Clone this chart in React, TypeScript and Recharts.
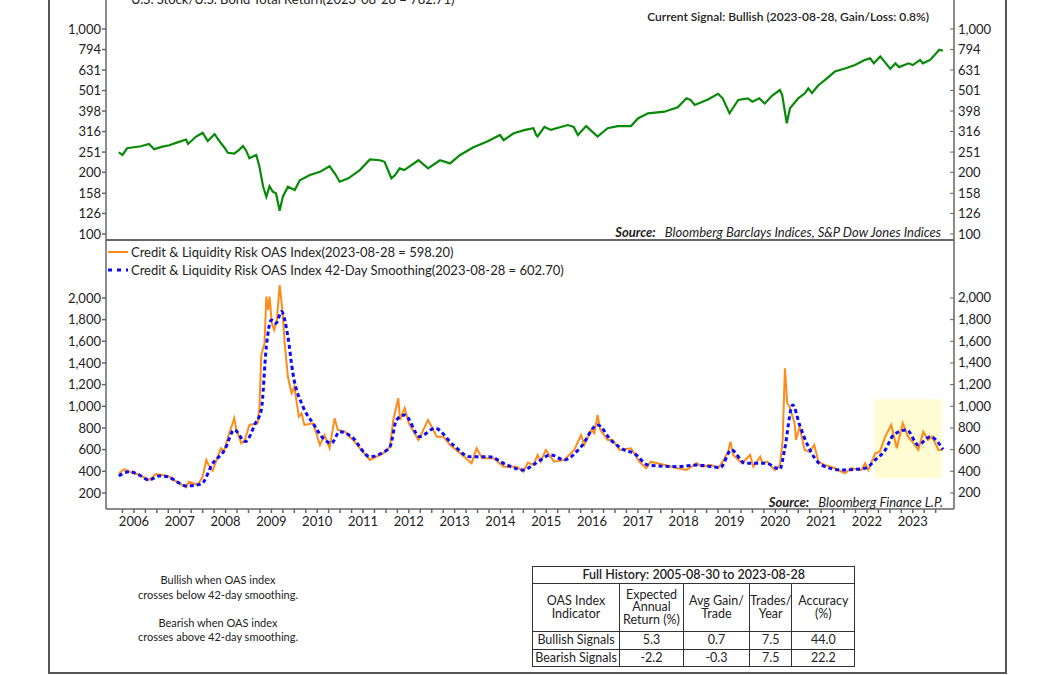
import { LineChart, Line, XAxis, YAxis, ReferenceArea } from 'recharts'

// U.S. stock / U.S. bond total return ratio [decimal year, value]
const stockBond: [number, number][] = [
  [2005.67, 250], [2005.75, 243], [2005.85, 262], [2006.0, 265], [2006.15, 268], [2006.33, 275],
  [2006.44, 259], [2006.6, 266], [2006.77, 271], [2006.95, 280], [2007.14, 289], [2007.18, 275],
  [2007.35, 298], [2007.5, 312], [2007.61, 284], [2007.76, 307], [2007.9, 277], [2007.97, 265],
  [2008.05, 249], [2008.19, 247], [2008.3, 258], [2008.38, 269], [2008.45, 255], [2008.52, 234],
  [2008.67, 243], [2008.74, 213], [2008.82, 170], [2008.89, 152], [2008.96, 171], [2009.03, 161],
  [2009.1, 158], [2009.18, 130], [2009.25, 152], [2009.36, 170], [2009.51, 164], [2009.62, 183],
  [2009.84, 194], [2010.06, 201], [2010.27, 214], [2010.4, 195], [2010.49, 180], [2010.68, 187],
  [2010.93, 205], [2011.15, 231], [2011.37, 229], [2011.47, 225], [2011.62, 187], [2011.7, 194],
  [2011.8, 209], [2011.9, 205], [2012.21, 229], [2012.42, 209], [2012.68, 229], [2012.9, 221],
  [2013.12, 243], [2013.41, 265], [2013.7, 282], [2013.99, 304], [2014.07, 287], [2014.29, 310],
  [2014.54, 322], [2014.72, 328], [2014.78, 304], [2014.81, 299], [2014.96, 333], [2015.1, 322],
  [2015.47, 340], [2015.6, 333], [2015.69, 304], [2015.87, 336], [2016.12, 299], [2016.34, 328],
  [2016.56, 336], [2016.85, 336], [2017.0, 366], [2017.22, 388], [2017.58, 395], [2017.87, 415],
  [2018.06, 459], [2018.15, 451], [2018.24, 426], [2018.53, 453], [2018.75, 483], [2018.85, 459],
  [2019.0, 388], [2019.19, 451], [2019.4, 459], [2019.5, 442], [2019.65, 459], [2019.77, 433],
  [2019.92, 471], [2020.1, 504], [2020.15, 476], [2020.25, 347], [2020.32, 411], [2020.5, 459],
  [2020.65, 487], [2020.72, 513], [2020.8, 487], [2020.94, 532], [2021.08, 563], [2021.3, 620],
  [2021.52, 642], [2021.74, 667], [2021.96, 707], [2022.07, 720], [2022.15, 680], [2022.29, 735],
  [2022.51, 639], [2022.62, 680], [2022.7, 652], [2022.91, 680], [2023.0, 667], [2023.16, 707],
  [2023.22, 680], [2023.38, 707], [2023.58, 792], [2023.66, 783],
]

// Credit & Liquidity Risk OAS Index
const oasIndex: [number, number][] = [
  [2005.67, 382], [2005.79, 419], [2005.9, 397], [2006.1, 370], [2006.33, 320], [2006.48, 375],
  [2006.74, 357], [2006.95, 300], [2007.14, 253], [2007.2, 304], [2007.39, 274], [2007.5, 351],
  [2007.58, 505], [2007.63, 458], [2007.72, 406], [2007.9, 613], [2007.96, 581], [2008.08, 751],
  [2008.19, 889], [2008.23, 797], [2008.34, 659], [2008.42, 689], [2008.52, 828], [2008.7, 843],
  [2008.74, 997], [2008.78, 1474], [2008.85, 1582], [2008.89, 2012], [2008.93, 1889], [2008.96, 2012],
  [2009.01, 1766], [2009.06, 1704], [2009.12, 1797], [2009.18, 2120], [2009.24, 1889], [2009.29, 1582],
  [2009.36, 1273], [2009.44, 1120], [2009.5, 1181], [2009.6, 904], [2009.66, 935], [2009.72, 828],
  [2009.91, 843], [2010.06, 643], [2010.16, 735], [2010.27, 613], [2010.38, 889], [2010.45, 782],
  [2010.6, 766], [2010.78, 689], [2010.9, 627], [2011.15, 505], [2011.44, 566], [2011.59, 627],
  [2011.66, 874], [2011.77, 1074], [2011.81, 874], [2011.91, 982], [2012.0, 843], [2012.21, 689],
  [2012.3, 766], [2012.42, 874], [2012.61, 720], [2012.75, 720], [2012.9, 643], [2013.12, 566],
  [2013.37, 474], [2013.48, 613], [2013.6, 520], [2013.85, 520], [2014.07, 443], [2014.36, 443],
  [2014.5, 397], [2014.6, 480], [2014.72, 458], [2014.81, 551], [2014.88, 489], [2014.99, 597],
  [2015.17, 489], [2015.39, 505], [2015.61, 597], [2015.76, 735], [2015.83, 643], [2015.98, 782],
  [2016.05, 751], [2016.12, 920], [2016.18, 782], [2016.34, 689], [2016.45, 689], [2016.6, 597],
  [2016.85, 613], [2017.03, 489], [2017.18, 428], [2017.28, 489], [2017.58, 458], [2017.87, 428],
  [2018.06, 412], [2018.28, 474], [2018.4, 443], [2018.6, 458], [2018.75, 428], [2018.85, 489],
  [2018.97, 581], [2019.02, 674], [2019.08, 551], [2019.27, 474], [2019.45, 551], [2019.52, 443],
  [2019.67, 535], [2019.72, 474], [2019.82, 489], [2019.99, 412], [2020.1, 458], [2020.16, 689],
  [2020.21, 1351], [2020.26, 1028], [2020.31, 997], [2020.42, 843], [2020.45, 689], [2020.53, 812],
  [2020.64, 597], [2020.75, 581], [2020.85, 643], [2020.94, 489], [2021.08, 458], [2021.3, 428],
  [2021.52, 382], [2021.65, 428], [2021.88, 412], [2021.96, 474], [2022.03, 412], [2022.18, 566],
  [2022.28, 581], [2022.4, 720], [2022.53, 828], [2022.65, 613], [2022.78, 843], [2022.9, 720],
  [2023.02, 659], [2023.12, 597], [2023.23, 766], [2023.33, 689], [2023.42, 720], [2023.56, 597],
  [2023.66, 598],
]

// 42-day smoothing of the OAS index
const oasSmooth: [number, number][] = [
  [2005.67, 357], [2005.9, 397], [2006.1, 370], [2006.33, 320], [2006.55, 357], [2006.74, 350],
  [2006.95, 300], [2007.14, 265], [2007.47, 283], [2007.72, 474], [2007.98, 597], [2008.19, 782],
  [2008.43, 674], [2008.65, 843], [2008.78, 966], [2008.89, 1551], [2009.0, 1797], [2009.1, 1766],
  [2009.22, 1874], [2009.36, 1643], [2009.47, 1304], [2009.69, 997], [2009.91, 843], [2010.13, 705],
  [2010.31, 659], [2010.49, 766], [2010.75, 720], [2011.15, 535], [2011.4, 566], [2011.59, 627],
  [2011.73, 874], [2011.91, 920], [2012.24, 720], [2012.57, 797], [2012.97, 643], [2013.33, 535],
  [2013.75, 535], [2014.14, 458], [2014.5, 412], [2014.77, 474], [2015.1, 551], [2015.39, 505],
  [2015.76, 627], [2016.12, 828], [2016.41, 689], [2016.7, 597], [2016.92, 566], [2017.22, 458],
  [2017.87, 443], [2018.3, 458], [2018.8, 435], [2019.04, 597], [2019.34, 474], [2019.8, 474],
  [2020.1, 419], [2020.2, 597], [2020.38, 1012], [2020.53, 828], [2020.72, 627], [2021.01, 458],
  [2021.45, 412], [2021.96, 428], [2022.18, 505], [2022.4, 597], [2022.58, 735], [2022.87, 782],
  [2023.12, 643], [2023.38, 720], [2023.66, 603],
]

const years = [2006, 2007, 2008, 2009, 2010, 2011, 2012, 2013, 2014, 2015, 2016, 2017, 2018, 2019, 2020, 2021, 2022, 2023]
const topTicks = [100, 126, 158, 200, 251, 316, 398, 501, 631, 794, 1000]
const bottomTicks = [200, 400, 600, 800, 1000, 1200, 1400, 1600, 1800, 2000]

const tableHead = ['OAS Index\nIndicator', 'Expected\nAnnual\nReturn (%)', 'Avg Gain/\nTrade', 'Trades/\nYear', 'Accuracy\n(%)']
const tableRows = [
  ['Bullish Signals', '5.3', '0.7', '7.5', '44.0'],
  ['Bearish Signals', '-2.2', '-0.3', '7.5', '22.2'],
]
const colWidths = [87, 64, 66, 40, 63]

const toPoints = (arr: [number, number][]) => arr.map(([t, v]) => ({ t, v }))
const quarterTicks = [2005.75, ...years.flatMap(y => [y, y + 0.25, y + 0.5, y + 0.75])].filter(t => t <= 2023.5)

const FONT = 'Lato, "Open Sans", sans-serif'
const AXIS = '#666'
const TEXT = '#222'
const fmt = (v: number) => v.toLocaleString('en-US')
const xDomain: [number, number] = [2005.39, 2023.9]

const RightTick = (props: any) => {
  const { x, y, payload } = props
  return (
    <g>
      <line x1={x - 8} x2={x - 4} y1={y} y2={y} stroke={AXIS} />
      <text x={x} y={y} dy={4.5} textAnchor="start" fontSize={13} fill={TEXT} fontFamily={FONT}>
        {fmt(payload.value)}
      </text>
    </g>
  )
}

const yearLabel = (v: number) => (Number.isInteger(v) ? String(v) : '')

function LegendRow({ top, color, dashed, label }: { top: number; color: string; dashed?: boolean; label: string }) {
  return (
    <div style={{ position: 'absolute', left: 108, top: top - 9, height: 18, display: 'flex', alignItems: 'center', whiteSpace: 'nowrap' }}>
      <svg width={22} height={6} style={{ marginRight: 1 }}>
        <line x1={0} x2={20} y1={3} y2={3} stroke={color} strokeWidth={dashed ? 3 : 2} strokeDasharray={dashed ? '4 5' : undefined} />
      </svg>
      <span style={{ fontSize: 13, color: TEXT }}>{label}</span>
    </div>
  )
}

function Source({ top, right, text }: { top: number; right: number; text: string }) {
  return (
    <div style={{ position: 'absolute', top: top - 9, right: 1056 - right, fontSize: 13, fontStyle: 'italic', color: TEXT, whiteSpace: 'nowrap' }}>
      <b>Source:</b>&nbsp;&nbsp;&nbsp;{text}
    </div>
  )
}

export default function App() {
  const cell = { border: '1px solid #333', textAlign: 'center' as const, padding: 0 }
  return (
    <div style={{ position: 'absolute', left: 0, top: 0, width: 1056, height: 675, overflow: 'hidden', background: '#fff', fontFamily: FONT }}>
      {/* frame */}
      <div style={{ position: 'absolute', left: 48, top: 0, width: 2, height: 674, background: '#555' }} />
      <div style={{ position: 'absolute', left: 1005, top: 0, width: 2, height: 674, background: '#555' }} />
      <div style={{ position: 'absolute', left: 48, top: 672, width: 959, height: 2, background: '#555' }} />

      {/* top panel */}
      <div style={{ position: 'absolute', left: 0, top: -12 }}>
        <LineChart width={1056} height={262} margin={{ top: 0, right: 42, bottom: 10, left: 46 }}>
          <XAxis dataKey="t" type="number" domain={xDomain} allowDataOverflow hide />
          <YAxis yAxisId="l" scale="log" domain={[93.5, 1585]} ticks={topTicks} interval={0} allowDataOverflow width={60}
            tickFormatter={fmt} tickSize={4} tickMargin={1} stroke={AXIS} strokeWidth={1.5}
            tick={{ fontSize: 13, fill: TEXT, fontFamily: FONT }} />
          <YAxis yAxisId="r" orientation="right" scale="log" domain={[93.5, 1585]} ticks={topTicks} interval={0} allowDataOverflow width={60}
            tickSize={0} tickMargin={4} stroke={AXIS} strokeWidth={1.5} tick={RightTick} />
          <Line yAxisId="l" data={toPoints(stockBond)} dataKey="v" type="linear" stroke="#078a07" strokeWidth={2.2} dot={false} isAnimationActive={false} />
        </LineChart>
      </div>
      <div style={{ position: 'absolute', left: 106, top: 239, width: 848, height: 2, background: AXIS }} />
      <LegendRow top={-1} color="#078a07" label="U.S. Stock/U.S. Bond Total Return(2023-08-28 = 782.71)" />
      <div style={{ position: 'absolute', top: 9, right: 1056 - 929, fontSize: 12, fontWeight: 600, color: TEXT, whiteSpace: 'nowrap' }}>
        Current Signal: Bullish (2023-08-28, Gain/Loss: 0.8%)
      </div>
      <Source top={233} right={941} text="Bloomberg Barclays Indices, S&P Dow Jones Indices" />

      {/* bottom panel */}
      <div style={{ position: 'absolute', left: 0, top: 240 }}>
        <LineChart width={1056} height={299} margin={{ top: 0, right: 42, bottom: 0, left: 46 }}>
          <XAxis dataKey="t" type="number" domain={xDomain} allowDataOverflow ticks={quarterTicks} interval={0}
            tickFormatter={yearLabel} height={30} tickSize={4} tickMargin={4} stroke={AXIS} strokeWidth={1.5}
            tick={{ fontSize: 13, fill: TEXT, fontFamily: FONT }} />
          <YAxis yAxisId="l" domain={[52, 2535]} ticks={bottomTicks} interval={0} allowDataOverflow width={60}
            tickFormatter={fmt} tickSize={4} tickMargin={1} stroke={AXIS} strokeWidth={1.5}
            tick={{ fontSize: 13, fill: TEXT, fontFamily: FONT }} />
          <YAxis yAxisId="r" orientation="right" domain={[52, 2535]} ticks={bottomTicks} interval={0} allowDataOverflow width={60}
            tickSize={0} tickMargin={4} stroke={AXIS} strokeWidth={1.5} tick={RightTick} />
          <ReferenceArea yAxisId="l" x1={2022.17} x2={2023.63} y1={336} y2={1065} fill="#fffbd2" fillOpacity={1} stroke="none" />
          <Line yAxisId="l" data={toPoints(oasIndex)} dataKey="v" type="linear" stroke="#ff8c1a" strokeWidth={2} dot={false} isAnimationActive={false} />
          <Line yAxisId="l" data={toPoints(oasSmooth)} dataKey="v" type="monotone" stroke="#0a0aff" strokeWidth={3} strokeDasharray="4 3" dot={false} isAnimationActive={false} />
        </LineChart>
      </div>
      <LegendRow top={252} color="#ff8c1a" label="Credit & Liquidity Risk OAS Index(2023-08-28 = 598.20)" />
      <LegendRow top={270} color="#0a0aff" dashed label="Credit & Liquidity Risk OAS Index 42-Day Smoothing(2023-08-28 = 602.70)" />
      <Source top={503} right={943} text="Bloomberg Finance L.P." />

      {/* notes */}
      <div style={{ position: 'absolute', left: 118, top: 573, width: 200, textAlign: 'center', fontSize: 11, lineHeight: '14.5px', color: TEXT }}>
        Bullish when OAS index<br />crosses below 42-day smoothing.<br /><br />
        <span style={{ position: 'relative', top: -1 }}>Bearish when OAS index<br />crosses above 42-day smoothing.</span>
      </div>

      {/* stats table */}
      <table style={{ position: 'absolute', left: 532, top: 566, borderCollapse: 'collapse', fontSize: 12.5, color: TEXT, lineHeight: '12.5px' }}>
        <colgroup>
          {colWidths.map((w, i) => <col key={i} style={{ width: w }} />)}
        </colgroup>
        <tbody>
          <tr style={{ height: 17 }}>
            <td colSpan={5} style={{ ...cell, fontWeight: 600 }}>Full History: 2005-08-30 to 2023-08-28</td>
          </tr>
          <tr style={{ height: 48 }}>
            {tableHead.map((h, i) => (
              <td key={i} style={{ ...cell, whiteSpace: 'pre-line' }}>{h}</td>
            ))}
          </tr>
          {tableRows.map((r, i) => (
            <tr key={i} style={{ height: 17.5 }}>
              {r.map((c, j) => <td key={j} style={{ ...cell, whiteSpace: 'nowrap' }}>{c}</td>)}
            </tr>
          ))}
        </tbody>
      </table>
    </div>
  )
}
